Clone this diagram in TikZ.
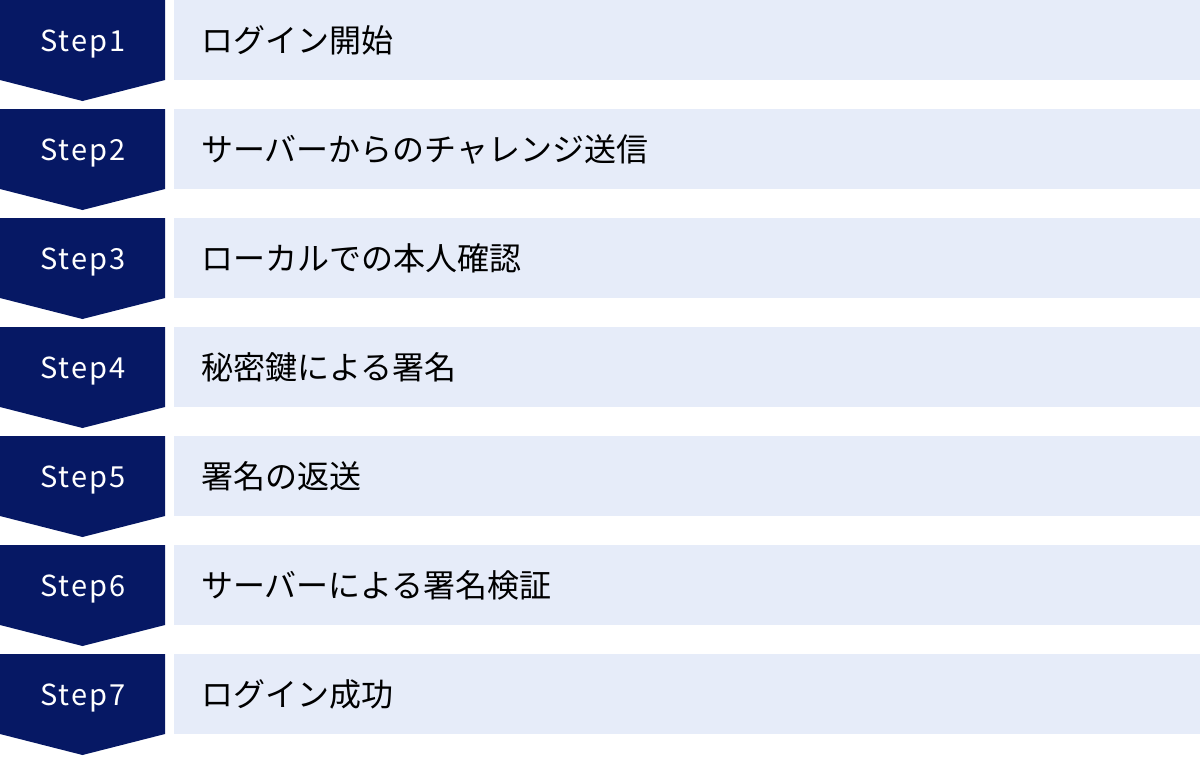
\documentclass[tikz,border=0pt]{standalone}
\usepackage{fontspec}
\setmainfont{Noto Sans CJK JP}
\newfontfamily\stepfont[LetterSpace=7]{Noto Sans CJK JP}
\usetikzlibrary{positioning}
\definecolor{stepnavy}{HTML}{061864}
\definecolor{boxblue}{HTML}{E6ECF9}

\begin{document}
\begin{tikzpicture}[x=1pt, y=-1pt,
        steplabel/.style={anchor=base, text=white, inner sep=0pt, font=\stepfont\fontsize{29}{34}\selectfont},
        steptext/.style={anchor=west, text=black, font=\fontsize{32}{38}\selectfont, inner sep=0pt}]
        \useasboundingbox (0,0) rectangle (1200,756);
        \foreach \i/\txt in {1/ログイン開始,2/サーバーからのチャレンジ送信,3/ローカルでの本人確認,4/秘密鍵による署名,5/署名の返送,6/サーバーによる署名検証,7/ログイン成功}{
            \pgfmathsetmacro{\top}{109*(\i-1)}
            \fill[stepnavy] (0,\top) -- (165,\top) -- (165,\top+80) -- (82.5,\top+101) -- (0,\top+80) -- cycle;
            \fill[boxblue] (174,\top) rectangle (1200,\top+80);
            \node[steplabel] (step\i) at (83,\top+51) {Step\i};
            \node[steptext] (text\i) at (201,\top+40) {\txt};
        }
    \end{tikzpicture}
\end{document}
